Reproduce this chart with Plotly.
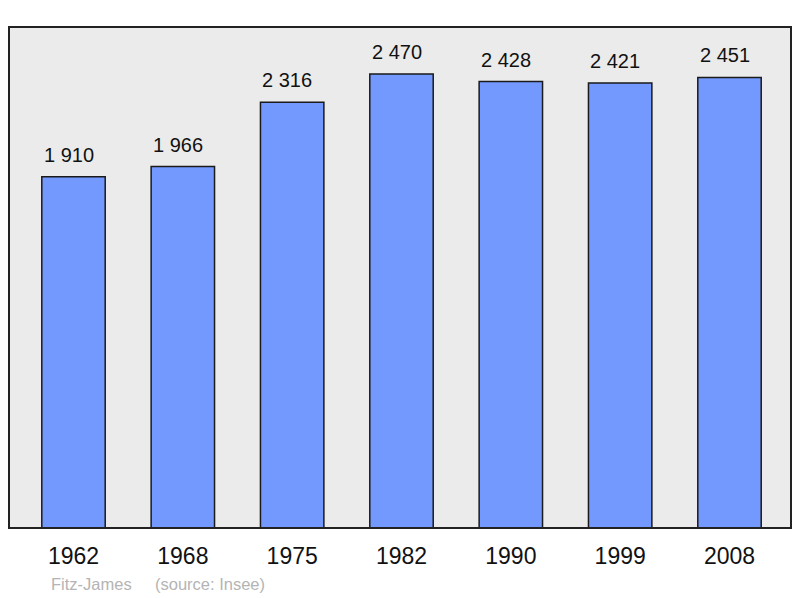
import plotly.graph_objects as go

years = ["1962", "1968", "1975", "1982", "1990", "1999", "2008"]
population = [1910, 1966, 2316, 2470, 2428, 2421, 2451]
commune = "Fitz-James"
source = "(source: Insee)"

FONT = "Liberation Sans, Arial, sans-serif"
idx = list(range(len(years)))

fig = go.Figure()
fig.add_trace(go.Bar(
    x=idx, y=population, width=0.58,
    marker=dict(color="#7399ff", line=dict(color="#1a1a1a", width=1.5)),
    hoverinfo="skip",
))

annotations = []
for i, v in zip(idx, population):
    annotations.append(dict(
        x=i, y=v, xref="x", yref="y", text=f"{v:,}".replace(",", " "),
        showarrow=False, yanchor="middle", xanchor="center", yshift=22, xshift=-5,
        font=dict(family=FONT, size=20, color="#111111"),
    ))
annotations.append(dict(x=(49 - 9) / 782, y=-56 / 501, xref="paper", yref="paper",
                        text=commune, showarrow=False, xanchor="left", yanchor="middle",
                        font=dict(family=FONT, size=16.5, color="#b4b4b4")))
annotations.append(dict(x=(153 - 9) / 782, y=-56 / 501, xref="paper", yref="paper",
                        text=source, showarrow=False, xanchor="left", yanchor="middle",
                        font=dict(family=FONT, size=16.5, color="#b4b4b4")))

# page body has an 8px margin, so the figure is offset by (8, 8)
fig.update_layout(
    width=792, height=590,
    margin=dict(l=1, r=9, t=19, b=70),
    paper_bgcolor="white", plot_bgcolor="#ebebeb",
    showlegend=False,
    annotations=annotations,
    shapes=[dict(type="rect", xref="paper", yref="paper", x0=0, x1=1, y0=0, y1=1,
                 line=dict(color="#222222", width=2), layer="above")],
    xaxis=dict(tickmode="array", tickvals=idx, ticktext=years,
               range=[-0.59, 6.5625], showgrid=False, zeroline=False,
               ticks="outside", ticklen=7, tickcolor="rgba(0,0,0,0)",
               tickfont=dict(family=FONT, size=23, color="#111111"), fixedrange=True),
    yaxis=dict(range=[0, 2725], showgrid=False, zeroline=False, showticklabels=False,
               fixedrange=True),
)

fig.write_html("out.html")
